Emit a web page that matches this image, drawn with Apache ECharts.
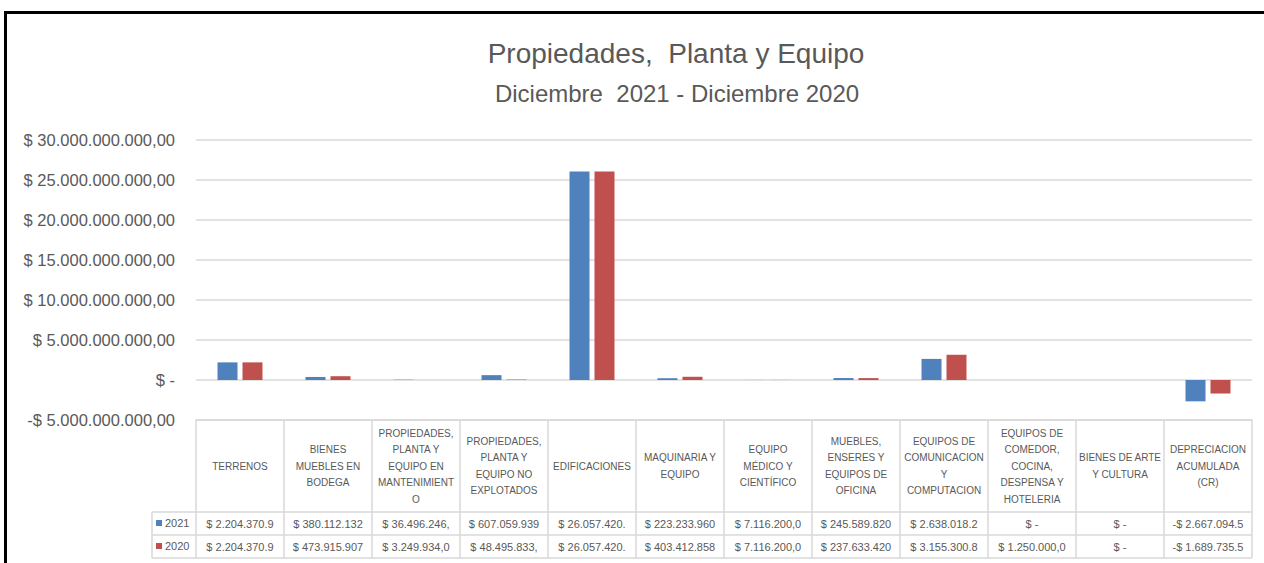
<!DOCTYPE html>
<html>
<head>
<meta charset="utf-8">
<title>Propiedades, Planta y Equipo</title>
<script src="https://cdn.jsdelivr.net/npm/echarts@6/dist/echarts.min.js"></script>
<style>
  html, body { margin: 0; padding: 0; background: #fff; }
  #frame {
    position: absolute; left: 4px; top: 11px;
    width: 1400px; height: 700px;
    border-top: 3px solid #000; border-left: 3px solid #000;
  }
  #chart { position: absolute; left: 0; top: 0; width: 1264px; height: 563px; }
</style>
</head>
<body>
<div id="frame"></div>
<div id="chart"></div>
<script>
// categories as they are wrapped in the data table header
const categories = [
  "TERRENOS",
  "BIENES\nMUEBLES EN\nBODEGA",
  "PROPIEDADES,\nPLANTA Y\nEQUIPO EN\nMANTENIMIENT\nO",
  "PROPIEDADES,\nPLANTA Y\nEQUIPO NO\nEXPLOTADOS",
  "EDIFICACIONES",
  "MAQUINARIA Y\nEQUIPO",
  "EQUIPO\nMÉDICO Y\nCIENTÍFICO",
  "MUEBLES,\nENSERES Y\nEQUIPOS DE\nOFICINA",
  "EQUIPOS DE\nCOMUNICACION\nY\nCOMPUTACION",
  "EQUIPOS DE\nCOMEDOR,\nCOCINA,\nDESPENSA Y\nHOTELERIA",
  "BIENES DE ARTE\nY CULTURA",
  "DEPRECIACION\nACUMULADA\n(CR)"
];
const values2021 = [2204370900, 380112132, 36496246, 607059939, 26057420000, 223233960,
  7116200, 245589820, 2638018200, 0, 0, -2667094500];
const values2020 = [2204370900, 473915907, 3249934, 48495833, 26057420000, 403412858,
  7116200, 237633420, 3155300800, 1250000, 0, -1689735500];
const seriesNames = ["2021", "2020"];
const yMin = -5000000000, yMax = 30000000000, yStep = 5000000000;

const textColor = "#595959";
const lineColor = "#d9d9d9";
const font = '"Liberation Sans Narrow", "Liberation Sans", Arial, sans-serif';

// layout of plot + data table
const gridLeft = 196, gridRight = 1252, gridTop = 140, gridBottom = 420;
const headerH = 92, rowH = 23, legendLeft = 152;

function withDots(n) {
  return String(Math.round(n)).replace(/\B(?=(\d{3})+(?!\d))/g, ".");
}
function money(v) {
  if (v === 0) return "$ -";
  return (v < 0 ? "-" : "") + "$ " + withDots(Math.abs(v)) + ",00";
}
// excel cuts the text to the cell width
function cell(v) {
  const s = money(v);
  return s.slice(0, v < 0 ? 14 : 13);
}

const chart = echarts.init(document.getElementById("chart"), null, { renderer: "svg" });

const rowAxis = (offset, vals) => ({
  type: "category",
  gridIndex: 0,
  position: "bottom",
  offset: offset,
  data: categories,
  axisLine: { show: false },
  axisTick: { show: false },
  axisLabel: {
    interval: 0,
    margin: rowH / 2,
    verticalAlign: "middle",
    color: textColor,
    fontFamily: font,
    fontSize: 11,
    formatter: (val, i) => cell(vals[i])
  }
});

chart.setOption({
  animation: false,
  textStyle: { fontFamily: font },
  grid: {
    left: gridLeft, right: 1264 - gridRight, top: gridTop, bottom: 563 - gridBottom,
    containLabel: false
  },
  legend: {
    orient: "vertical",
    left: legendLeft + 4,
    top: gridBottom + headerH + 4,
    itemWidth: 6,
    itemHeight: 6,
    itemGap: 9,
    icon: "rect",
    padding: 0,
    textStyle: { color: textColor, fontSize: 11, lineHeight: 14, fontFamily: font, padding: [0, 0, 0, -2] },
    data: seriesNames
  },
  graphic: [
    { type: "text", x: 676, y: 53, style: { text: "Propiedades,  Planta y Equipo", align: "center", verticalAlign: "middle", fontSize: 28, fontFamily: font, fill: textColor } },
    { type: "text", x: 677, y: 93, style: { text: "Diciembre  2021 - Diciembre 2020", align: "center", verticalAlign: "middle", fontSize: 24, fontFamily: font, fill: textColor } },
    { type: "line", shape: { x1: legendLeft, y1: gridBottom + headerH, x2: gridRight, y2: gridBottom + headerH }, style: { stroke: lineColor, lineWidth: 1.5 } },
    { type: "line", shape: { x1: legendLeft, y1: gridBottom + headerH + rowH, x2: gridRight, y2: gridBottom + headerH + rowH }, style: { stroke: lineColor, lineWidth: 1.5 } },
    { type: "line", shape: { x1: legendLeft, y1: gridBottom + headerH + 2 * rowH, x2: gridRight, y2: gridBottom + headerH + 2 * rowH }, style: { stroke: lineColor, lineWidth: 1.5 } },
    { type: "line", shape: { x1: legendLeft, y1: gridBottom + headerH, x2: legendLeft, y2: gridBottom + headerH + 2 * rowH }, style: { stroke: lineColor, lineWidth: 1.5 } }
  ],
  xAxis: [
    {
      type: "category",
      position: "bottom",
      data: categories,
      axisLine: { show: true, onZero: false, lineStyle: { color: lineColor, width: 1.5 } },
      axisTick: { show: true, inside: false, length: headerH + 2 * rowH, lineStyle: { color: lineColor, width: 1.5 } },
      axisLabel: {
        interval: 0,
        margin: headerH / 2,
        verticalAlign: "middle",
        align: "center",
        color: textColor,
        fontSize: 10,
        lineHeight: 16.5,
        fontFamily: font
      }
    },
    rowAxis(headerH, values2021),
    rowAxis(headerH + rowH, values2020)
  ],
  yAxis: {
    type: "value",
    min: yMin,
    max: yMax,
    interval: yStep,
    axisLine: { show: false },
    axisTick: { show: false },
    splitLine: { lineStyle: { color: lineColor, width: 1.5 } },
    axisLabel: {
      margin: 21,
      color: textColor,
      fontSize: 16.5,
      fontFamily: font,
      formatter: (v) => money(v)
    }
  },
  series: [
    { name: seriesNames[0], type: "bar", data: values2021, barWidth: 20, barGap: "25%", itemStyle: { color: "#4f81bd" } },
    { name: seriesNames[1], type: "bar", data: values2020, barWidth: 20, barGap: "25%", itemStyle: { color: "#c0504d" } }
  ]
});
</script>
</body>
</html>
